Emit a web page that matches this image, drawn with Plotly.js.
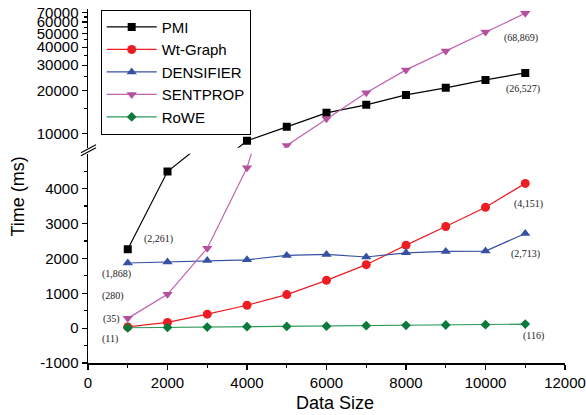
<!DOCTYPE html>
<html>
<head>
<meta charset="utf-8">
<script src="https://cdn.plot.ly/plotly-3.0.1.min.js"></script>
<style>html,body{margin:0;padding:0;background:#fff;}#chart{width:586px;height:415px;}</style>
</head>
<body>
<div id="chart"></div>
<script>
// ---- data ----
const dataSize = [1000, 2000, 3000, 4000, 5000, 6000, 7000, 8000, 9000, 10000, 11000];
const pmi       = [2261, 4490, 5400, 8940, 11180, 13990, 15900, 18650, 20870, 23710, 26527];
const wtGraph   = [35, 163, 400, 657, 962, 1371, 1820, 2380, 2914, 3466, 4151];
const densifier = [1868, 1900, 1940, 1960, 2085, 2115, 2040, 2160, 2200, 2210, 2713];
const sentprop  = [280, 971, 2290, 4600, 8300, 12710, 19270, 27830, 37680, 51100, 68869];
const rowe      = [11, 20, 30, 40, 50, 55, 70, 80, 90, 100, 116];
const seriesNames = ['PMI', 'Wt-Graph', 'DENSIFIER', 'SENTPROP', 'RoWE'];
const xTicks = [0, 2000, 4000, 6000, 8000, 10000, 12000];
const lowTicks = [-1000, 0, 1000, 2000, 3000, 4000];
const lowMinor = [-500, 500, 1500, 2500, 3500, 4500];
const highTicks = [10000, 20000, 30000, 40000, 50000, 60000, 70000];
const highMinor = [15000, 25000, 35000, 45000, 55000, 65000];

// value labels
const labelText = ['(2,261)', '(1,868)', '(280)', '(35)', '(11)', '(4,151)', '(2,713)', '(116)', '(68,869)', '(26,527)'];
const labelX = [1770, 726, 625, 600, 559, 11087, 11004, 11213, 10902, 10953];
const labelY = [2543, 1551, 923, 257, -314, 3571, 2134, -220, 46450, 20420];
const labelPanel = ['low','low','low','low','low','low','low','low','high','high'];

const styles = [
  {color: '#000000', line: '#000000', symbol: 'square', size: 8},
  {color: '#ee1d23', line: '#ee1d23', symbol: 'circle', size: 9},
  {color: '#3650a2', line: '#3650a2', symbol: 'triangle-up', size: 9},
  {color: '#b4509f', line: '#c062b2', symbol: 'triangle-down', size: 9},
  {color: '#0a7a3a', line: '#2e9a5a', symbol: 'diamond', size: 7.5}
];
const values = [pmi, wtGraph, densifier, sentprop, rowe];

const traces = [];
values.forEach((v, i) => {
  const s = styles[i];
  traces.push({
    x: dataSize, y: v, name: seriesNames[i], type: 'scatter', mode: 'lines+markers',
    xaxis: 'x', yaxis: 'y',
    line: {color: s.line, width: 1.2},
    marker: {color: s.color, symbol: s.symbol, size: s.size, line: {width: 0}},
    cliponaxis: true
  });
});
[0, 3].forEach(i => {
  const s = styles[i];
  traces.push({
    x: dataSize, y: values[i], name: seriesNames[i], type: 'scatter', mode: 'lines+markers',
    xaxis: 'x', yaxis: 'y2', showlegend: false,
    line: {color: s.line, width: 1.2},
    marker: {color: s.color, symbol: s.symbol, size: s.size, line: {width: 0}},
    cliponaxis: true
  });
});

const annotations = labelText.map((t, i) => ({
  text: t, x: labelX[i],
  y: labelPanel[i] === 'high' ? Math.log10(labelY[i]) : labelY[i],
  xref: 'x', yref: labelPanel[i] === 'high' ? 'y2' : 'y',
  showarrow: false, xanchor: 'center', yanchor: 'middle',
  font: {family: 'Liberation Serif, Times New Roman, serif', size: 10, color: '#222'}
}));
annotations.push({
  text: 'Time (ms)', xref: 'paper', yref: 'paper', x: -0.147, y: 0.47,
  textangle: -90, showarrow: false, xanchor: 'center', yanchor: 'middle',
  font: {family: 'Liberation Sans, Arial, sans-serif', size: 18, color: '#000'}
});
annotations.push({
  text: 'Data Size', xref: 'paper', yref: 'paper', x: 0.517, y: -0.112,
  showarrow: false, xanchor: 'center', yanchor: 'middle',
  font: {family: 'Liberation Sans, Arial, sans-serif', size: 18, color: '#000'}
});

const tickFont = {family: 'Liberation Sans, Arial, sans-serif', size: 15, color: '#000'};
const breakY = 0.5995;
const layout = {
  width: 586, height: 415,
  margin: {l: 88, r: 21, t: 9, b: 52, pad: 0},
  paper_bgcolor: '#fff', plot_bgcolor: '#fff',
  showlegend: true,
  legend: {
    x: 0.0266, y: 0.998, xanchor: 'left', yanchor: 'top',
    bgcolor: '#fff', bordercolor: '#000', borderwidth: 1, itemwidth: 50,
    font: {family: 'Liberation Sans, Arial, sans-serif', size: 15, color: '#000'}
  },
  xaxis: {
    range: [0, 12000], anchor: 'y',
    tickmode: 'array', tickvals: xTicks, ticktext: xTicks.map(String),
    showline: true, linecolor: '#000', linewidth: 1.5,
    ticks: 'outside', ticklen: 5, tickwidth: 1.2, tickcolor: '#000',
    minor: {dtick: 1000, tick0: 0, ticks: 'outside', ticklen: 3, tickwidth: 1.2, tickcolor: '#000'},
    showgrid: false, zeroline: false, tickfont: tickFont
  },
  yaxis: {
    domain: [0, 0.591], range: [-1000, 5000], anchor: 'x',
    tickmode: 'array', tickvals: lowTicks, ticktext: lowTicks.map(String),
    showline: true, linecolor: '#000', linewidth: 1.5,
    ticks: 'outside', ticklen: 5, tickwidth: 1.2, tickcolor: '#000',
    minor: {tickmode: 'array', tickvals: lowMinor, ticks: 'outside', ticklen: 3, tickwidth: 1.2, tickcolor: '#000'},
    showgrid: false, zeroline: false, tickfont: tickFont
  },
  yaxis2: {
    domain: [0.608, 1], type: 'log', range: [3.9028, 4.868], anchor: 'x',
    tickmode: 'array', tickvals: highTicks, ticktext: highTicks.map(String),
    showline: true, linecolor: '#000', linewidth: 1.5,
    ticks: 'outside', ticklen: 5, tickwidth: 1.2, tickcolor: '#000',
    minor: {tickmode: 'array', tickvals: highMinor, ticks: 'outside', ticklen: 3, tickwidth: 1.2, tickcolor: '#000'},
    showgrid: false, zeroline: false, tickfont: tickFont
  },
  shapes: [
    {type: 'line', xref: 'paper', yref: 'paper', xsizemode: 'pixel', ysizemode: 'pixel',
     xanchor: 0, yanchor: breakY, x0: -7, x1: 8, y0: -5, y1: 3, line: {color: '#000', width: 1.2}},
    {type: 'line', xref: 'paper', yref: 'paper', xsizemode: 'pixel', ysizemode: 'pixel',
     xanchor: 0, yanchor: breakY, x0: -7, x1: 8, y0: -2, y1: 6, line: {color: '#000', width: 1.2}}
  ],
  annotations: annotations
};

Plotly.newPlot('chart', traces, layout, {displayModeBar: false, staticPlot: true});
</script>
</body>
</html>
